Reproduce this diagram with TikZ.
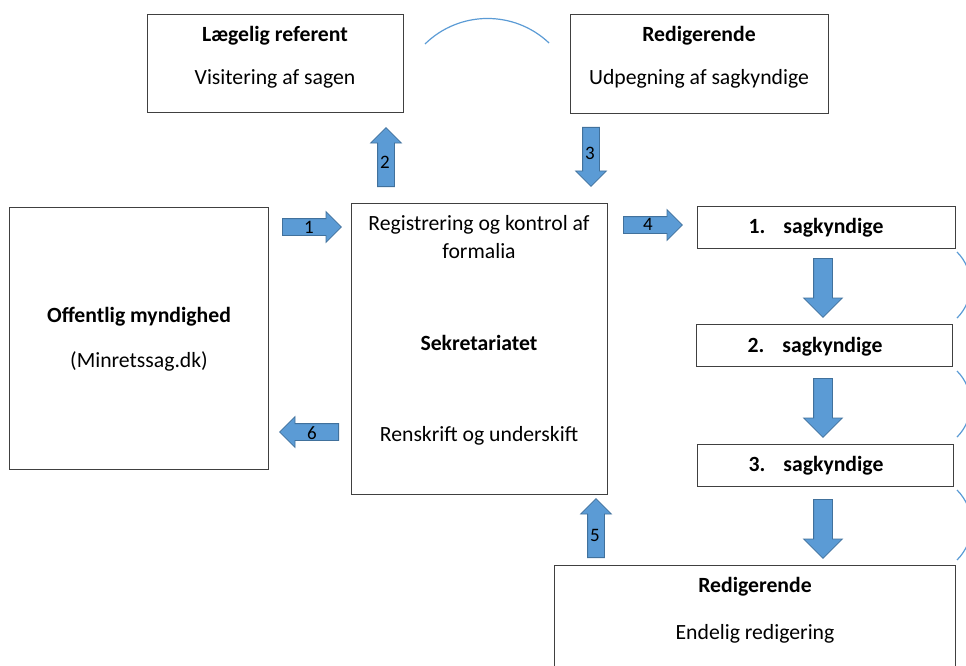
\documentclass[tikz,border=0pt]{standalone}
\usepackage{fontspec}
\setmainfont{Carlito}
\usetikzlibrary{shapes.arrows}
\definecolor{abl}{HTML}{5B9BD5}
\definecolor{abd}{HTML}{41719C}
\definecolor{bxc}{HTML}{404040}
\begin{document}
\begin{tikzpicture}[x=1pt,y=1pt,
 box/.style={draw=bxc, line width=1.3pt, anchor=north west, inner sep=0pt},
 txt/.style={anchor=base, inner sep=0pt, font=\fontsize{21.7}{26}\selectfont},
 btxt/.style={anchor=base, inner sep=0pt, font=\fontsize{21.7}{26}\selectfont\bfseries},
 barrow/.style={single arrow, draw=abd, fill=abl, line width=0.8pt, inner sep=8pt, minimum height=59pt, minimum width=30pt, single arrow head extend=7pt, anchor=tail},
 sarrow/.style={barrow, inner sep=9pt, minimum height=59pt, minimum width=38pt, single arrow head extend=10pt},
 num/.style={inner sep=0pt, font=\fontsize{19}{20}\selectfont},
 arcl/.style={draw=abl, line width=1.2pt}]
\useasboundingbox (0,0) rectangle (966,-666);
\begin{scope}
\clip (0,0) rectangle (966,-666);
% boxes
\node[box, minimum width=256pt, minimum height=98pt] (lr) at (147,-14) {};
\node[box, minimum width=258pt, minimum height=99pt] (rt) at (570,-14) {};
\node[box, minimum width=259pt, minimum height=262pt] (om) at (9,-207) {};
\node[box, minimum width=256pt, minimum height=291pt] (se) at (351,-203) {};
\node[box, minimum width=258pt, minimum height=42pt] (s1) at (697,-206) {};
\node[box, minimum width=256pt, minimum height=42pt] (s2) at (696,-324) {};
\node[box, minimum width=256pt, minimum height=42pt] (s3) at (697,-444) {};
\node[box, minimum width=401pt, minimum height=140pt] (rb) at (554,-565) {};
% texts
\node[btxt] (t1) at (275,-42) {Lægelig referent};
\node[txt] (t2) at (275,-85) {Visitering af sagen};
\node[btxt] (t3) at (699,-42) {Redigerende};
\node[txt] (t4) at (699,-85) {Udpegning af sagkyndige};
\node[btxt] (t5) at (139,-322) {Offentlig myndighed};
\node[txt] (t6) at (139,-367) {(Minretssag.dk)};
\node[txt] (t7) at (479,-230) {Registrering og kontrol af};
\node[txt] (t8) at (479,-258) {formalia};
\node[btxt] (t9) at (479,-350) {Sekretariatet};
\node[txt] (t10) at (479,-441) {Renskrift og underskift};
\node[btxt] (t11) at (816,-233) {1.\hspace{18pt}sagkyndige};
\node[btxt] (t12) at (815,-352) {2.\hspace{18pt}sagkyndige};
\node[btxt] (t13) at (816,-471) {3.\hspace{18pt}sagkyndige};
\node[btxt] (t14) at (755,-592) {Redigerende};
\node[txt] (t15) at (755,-639) {Endelig redigering};
% block arrows
\node[barrow] (a1) at (282,-227) {};
\node[barrow, shape border rotate=90] (a2) at (386,-187) {};
\node[barrow, shape border rotate=270] (a3) at (591,-127) {};
\node[barrow] (a4) at (623,-225) {};
\node[barrow, shape border rotate=90] (a5) at (596,-558) {};
\node[barrow, shape border rotate=180] (a6) at (339,-432) {};
\node[sarrow, shape border rotate=270] (d1) at (823,-258) {};
\node[sarrow, shape border rotate=270] (d2) at (823,-378) {};
\node[sarrow, shape border rotate=270] (d3) at (823,-499) {};
\node[num] (n1) at (309,-227) {1};
\node[num] (n2) at (385,-162) {2};
\node[num] (n3) at (590,-153) {3};
\node[num] (n4) at (648,-224) {4};
\node[num] (n5) at (595,-535) {5};
\node[num] (n6) at (312,-433) {6};
% arcs
\draw[arcl] (425,-44) arc[start angle=134.4, end angle=46.5, radius=89.4];
\draw[arcl] (957,-252) arc[start angle=45, end angle=-45, radius=46.7];
\draw[arcl] (957,-371) arc[start angle=45, end angle=-45, radius=46.7];
\draw[arcl] (957,-490) arc[start angle=45, end angle=-45, radius=49.5];
\end{scope}
\end{tikzpicture}
\end{document}
